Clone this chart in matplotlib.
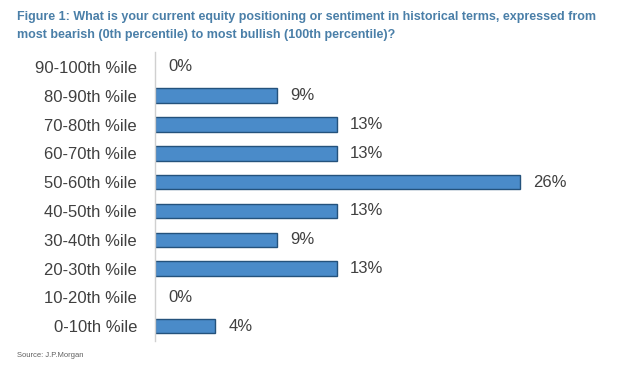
import matplotlib.pyplot as plt

plt.rcParams['font.family'] = ['Liberation Sans', 'DejaVu Sans']

categories = ['0-10th %ile', '10-20th %ile', '20-30th %ile', '30-40th %ile', '40-50th %ile',
              '50-60th %ile', '60-70th %ile', '70-80th %ile', '80-90th %ile', '90-100th %ile']
shares = [4.3, 0.0, 13.0, 8.7, 13.0, 26.1, 13.0, 13.0, 8.7, 0.0]

title = ('Figure 1: What is your current equity positioning or sentiment in historical terms, expressed from\n'
         'most bearish (0th percentile) to most bullish (100th percentile)?')

fig = plt.figure(figsize=(6.2, 3.67), dpi=100)
ax = fig.add_axes([0.25, 0.072, 0.72, 0.785])

ypos = list(range(len(categories)))
# no outline on empty bars, otherwise a stray vertical tick shows at zero
lw = [1.0 if v > 0 else 0 for v in shares]
ax.barh(ypos, shares, height=0.5, color='#4a8bc9', edgecolor='#24527c', linewidth=lw)

for y, v in zip(ypos, shares):
    ax.text(v + 0.95, y, f'{v:.0f}%', va='center', ha='left', fontsize=12, color='#404040')

ax.set_yticks(ypos)
ax.set_yticklabels(categories, fontsize=12, color='#404040')
ax.set_ylim(-0.5, len(categories) - 0.5)
ax.set_xlim(0, 31.9)
ax.set_xticks([])
ax.tick_params(axis='y', length=0, pad=13)
for s in ['top', 'right', 'bottom']:
    ax.spines[s].set_visible(False)
ax.spines['left'].set_color('#d0d0d0')
ax.spines['left'].set_linewidth(1.0)

fig.text(0.027, 0.97, title, fontsize=9.0, fontweight='bold', color='#4a7fa8',
         va='top', ha='left', linespacing=1.7)
fig.text(0.027, 0.03, 'Source: J.P.Morgan', fontsize=5.5, color='#606060', va='center')

fig.savefig('out.png', dpi=100)
